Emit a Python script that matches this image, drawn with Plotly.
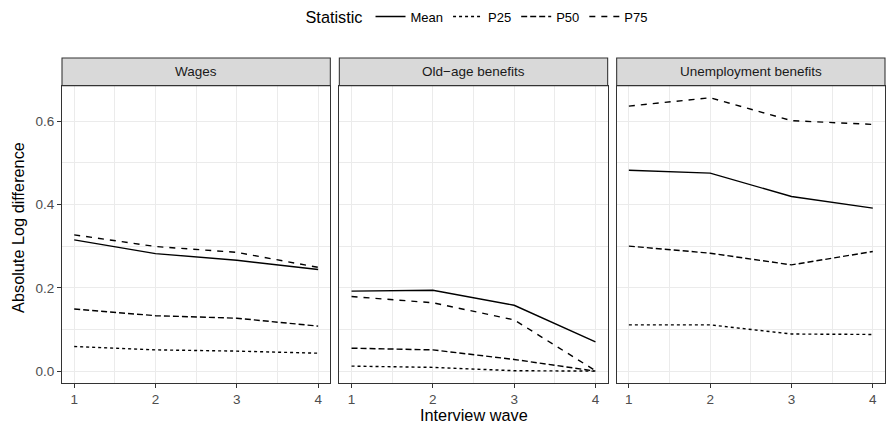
import plotly.graph_objects as go

waves = [1, 2, 3, 4]
panels = ["Wages", "Old\u2212age benefits", "Unemployment benefits"]
stats = ["Mean", "P25", "P50", "P75"]

wages_mean = [0.315, 0.282, 0.266, 0.244]
wages_p25 = [0.059, 0.051, 0.048, 0.043]
wages_p50 = [0.149, 0.133, 0.127, 0.108]
wages_p75 = [0.327, 0.299, 0.285, 0.249]

old_mean = [0.192, 0.194, 0.158, 0.070]
old_p25 = [0.012, 0.009, 0.001, 0.000]
old_p50 = [0.055, 0.051, 0.028, 0.000]
old_p75 = [0.179, 0.164, 0.123, 0.001]

unemp_mean = [0.482, 0.475, 0.419, 0.391]
unemp_p25 = [0.111, 0.111, 0.089, 0.088]
unemp_p50 = [0.300, 0.283, 0.255, 0.287]
unemp_p75 = [0.636, 0.656, 0.601, 0.592]

data = [
    [wages_mean, wages_p25, wages_p50, wages_p75],
    [old_mean, old_p25, old_p50, old_p75],
    [unemp_mean, unemp_p25, unemp_p50, unemp_p75],
]

dashes = {"Mean": "solid", "P25": "3px,3px", "P50": "6px,3px", "P75": "6px,6px"}

W, H = 886, 425
ml, mr, mt, mb = 62, 1, 54, 42
pw = W - ml - mr
ph = H - mt - mb
gap = 9
w = (pw - 2 * gap) / 3
domains = [[(i * (w + gap)) / pw, (i * (w + gap) + w) / pw] for i in range(3)]
ytop = (383 - 82) / ph

FONT = "Liberation Sans, Arial, sans-serif"
TICK = 13.5
TITLE = 16.3

fig = go.Figure()
for p in range(3):
    for s, name in enumerate(stats):
        fig.add_trace(go.Scatter(
            x=waves, y=data[p][s], mode="lines", name=name,
            line=dict(color="black", width=1.4, dash=dashes[name]),
            xaxis="x" if p == 0 else f"x{p+1}",
            yaxis="y" if p == 0 else f"y{p+1}",
            showlegend=(p == 0), legendgroup=name,
        ))

yrange = [-0.0285, 0.685]
layout = dict(
    width=W, height=H,
    margin=dict(l=ml, r=mr, t=mt, b=mb),
    paper_bgcolor="white", plot_bgcolor="white",
    font=dict(family=FONT, color="#4D4D4D", size=12),
    showlegend=True,
    legend=dict(
        orientation="h", x=(478 - ml) / pw, xanchor="center",
        y=1 + (mt - 13) / ph, yanchor="middle",
        title=dict(text="Statistic", font=dict(size=TITLE, color="black"), side="left"),
        font=dict(size=13, color="black"),
        itemwidth=30, tracegroupgap=0,
    ),
)

shapes = []
annotations = []
for p in range(3):
    xa = "xaxis" if p == 0 else f"xaxis{p+1}"
    ya = "yaxis" if p == 0 else f"yaxis{p+1}"
    layout[xa] = dict(
        domain=domains[p], range=[0.85, 4.15], anchor="y" if p == 0 else f"y{p+1}",
        tickvals=[1, 2, 3, 4], ticks="outside", ticklen=4, tickwidth=1.07,
        tickcolor="#333333", tickfont=dict(size=TICK, color="#4D4D4D"),
        showgrid=True, gridcolor="#EBEBEB", gridwidth=1.1,
        minor=dict(tickvals=[1.5, 2.5, 3.5], showgrid=True, gridcolor="#EBEBEB", gridwidth=0.6, ticks=""),
        showline=True, linecolor="#333333", linewidth=1.07, mirror=True,
        zeroline=False,
    )
    layout[ya] = dict(
        domain=[0, ytop], range=yrange, anchor="x" if p == 0 else f"x{p+1}",
        tickvals=[0, 0.2, 0.4, 0.6], ticktext=["0.0", "0.2", "0.4", "0.6"],
        ticks="outside" if p == 0 else "", ticklen=4, tickwidth=1.07, tickcolor="#333333",
        showticklabels=(p == 0), tickfont=dict(size=TICK, color="#4D4D4D"),
        showgrid=True, gridcolor="#EBEBEB", gridwidth=1.1,
        minor=dict(tickvals=[0.1, 0.3, 0.5], showgrid=True, gridcolor="#EBEBEB", gridwidth=0.6, ticks=""),
        showline=True, linecolor="#333333", linewidth=1.07, mirror=True,
        zeroline=False,
    )
    shapes.append(dict(
        type="rect", xref="paper", yref="paper",
        x0=domains[p][0], x1=domains[p][1], y0=ytop, y1=1,
        fillcolor="#D9D9D9", line=dict(color="#333333", width=1.07), layer="above",
    ))
    annotations.append(dict(
        text=panels[p], xref="paper", yref="paper",
        x=(domains[p][0] + domains[p][1]) / 2, y=(ytop + 1) / 2,
        xanchor="center", yanchor="middle", showarrow=False,
        font=dict(size=TICK, color="#1A1A1A"),
    ))

annotations.append(dict(
    text="Interview wave", xref="paper", yref="paper",
    x=0.5, y=-(415 - 383) / ph, xanchor="center", yanchor="middle",
    showarrow=False, font=dict(size=TITLE, color="black"),
))
annotations.append(dict(
    text="Absolute Log difference", xref="paper", yref="paper",
    x=-(ml - 18) / pw, y=(383 - 226) / ph, xanchor="center", yanchor="middle",
    textangle=-90, showarrow=False, font=dict(size=TITLE, color="black"),
))

layout["shapes"] = shapes
layout["annotations"] = annotations
fig.update_layout(**layout)
fig.write_html(
    "out.html",
    config={"displayModeBar": False},
    post_script="document.body.style.margin='0';document.body.style.padding='0';document.body.style.overflow='hidden';",
)
